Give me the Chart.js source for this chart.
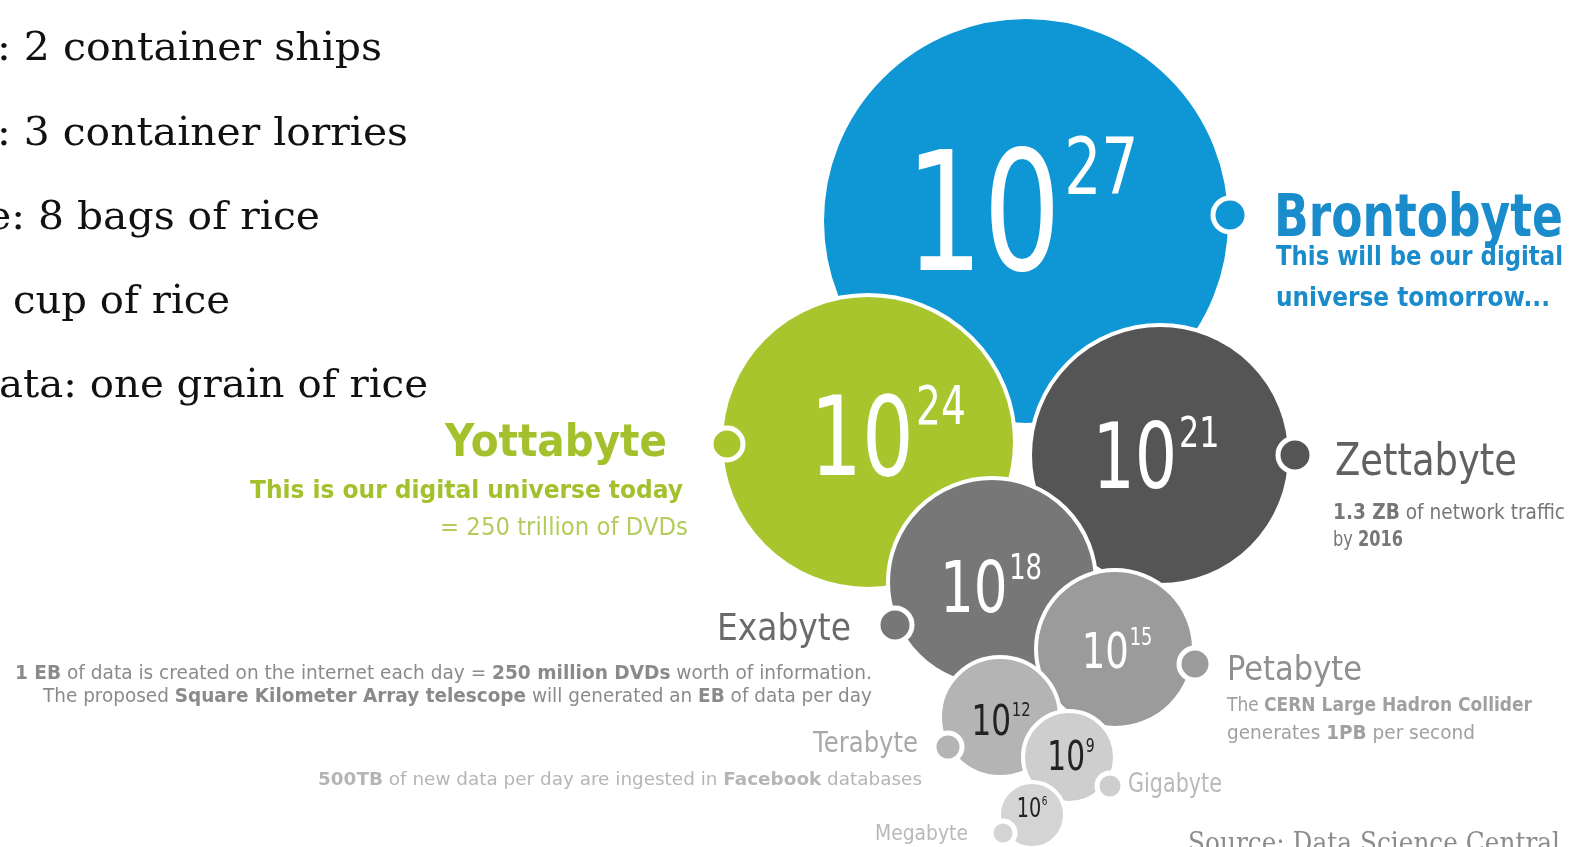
<!DOCTYPE html>
<html>
<head>
<meta charset="utf-8">
<script src="https://cdn.jsdelivr.net/npm/chart.js@4.4.1/dist/chart.umd.min.js"></script>
<style>
    html, body { margin: 0; padding: 0; background: #fff; overflow: hidden; }
    #wrap { position: relative; width: 1574px; height: 847px; }
</style>
</head>
<body>
<div id="wrap"><canvas id="bytesChart"></canvas></div>
<script>
// Data (bubble centre / radius in picture units)
const UNITS = ['Brontobyte', 'Yottabyte', 'Zettabyte', 'Exabyte', 'Petabyte', 'Terabyte', 'Gigabyte', 'Megabyte'];
const EXPONENTS = [27, 24, 21, 18, 15, 12, 9, 6];
const BUBBLE_X = [1026, 868, 1160, 992, 1115, 1000, 1069, 1032];
const BUBBLE_Y = [221, 442, 455, 582, 649, 717, 757, 815];
const BUBBLE_R = [204, 147, 130, 104, 79, 60, 46, 33];
const DOT_X = [1230, 727, 1295, 895, 1195, 948, 1110, 1003];
const DOT_Y = [215, 444, 455, 625, 664, 747, 786, 833];
const DOT_R = [17, 16, 17, 17, 16, 14, 13, 12];

// Notes next to each unit (**bold**)
const NOTES = [
    ['**This will be our digital**', '**universe tomorrow...**'],
    ['**This is our digital universe today**', '= 250 trillion of DVDs'],
    ['**1.3 ZB** of network traffic', 'by **2016**'],
    ['**1 EB** of data is created on the internet each day = **250 million DVDs** worth of information.',
     'The proposed **Square Kilometer Array telescope** will generated an **EB** of data per day'],
    ['The **CERN Large Hadron Collider**', 'generates **1PB** per second'],
    ['**500TB** of new data per day are ingested in **Facebook** databases'],
    [],
    []
];

const RICE = [': 2 container ships', ': 3 container lorries', 'e: 8 bags of rice', 'cup of rice', 'ata: one grain of rice'];
const SOURCE = 'Source: Data Science Central';

// Styles / layout
const COLORS = ['#0f97d5', '#a9c52d', '#555555', '#777777', '#9b9b9b', '#b4b4b4', '#cecece', '#d4d4d4'];
const EXP_COLORS = ['#fff', '#fff', '#fff', '#fff', '#fff', '#222', '#222', '#222'];
const EXP_SIZE = [165, 110, 90, 72, 50, 42, 40, 26];
const EXP_DX = [-4, 20, -4, -1, 2, 1, 2, 0];
const EXP_DY = [49, 33, 33, 30, 19, 18, 13, 2];

const TITLE = [
    { x: 1274, y: 236, size: 58, bold: true, color: '#1a8bcb', align: 'left', w: 289 },
    { x: 667, y: 456, size: 44, bold: true, color: '#a4c02c', align: 'right', w: 222 },
    { x: 1335, y: 475, size: 45, bold: false, color: '#616161', align: 'left', w: 182 },
    { x: 851, y: 640, size: 38, bold: false, color: '#6a6a6a', align: 'right', w: 134 },
    { x: 1227, y: 680, size: 34, bold: false, color: '#8f8f8f', align: 'left', w: 135 },
    { x: 918, y: 752, size: 28, bold: false, color: '#a9a9a9', align: 'right', w: 105 },
    { x: 1128, y: 792, size: 26, bold: false, color: '#b9b9b9', align: 'left', w: 94 },
    { x: 968, y: 840, size: 22, bold: false, color: '#b9b9b9', align: 'right', w: 93 }
];
const NOTE_LAYOUT = [
    { x: [1276, 1276], y: [265, 306], size: 27, color: ['#1a8bcb', '#1a8bcb'], align: 'left', w: [287, 274] },
    { x: [683, 688], y: [498, 535], size: 24, color: ['#a4c02c', '#b4cc5c'], align: 'right', w: [433, 248] },
    { x: [1333, 1333], y: [519, 546], size: 21, color: ['#777', '#777'], align: 'left', w: [232, 70] },
    { x: [872, 872], y: [679, 702], size: 19, color: ['#8a8a8a', '#8a8a8a'], align: 'right', w: [857, 829] },
    { x: [1227, 1227], y: [711, 739], size: 20, color: ['#a0a0a0', '#a0a0a0'], align: 'left', w: [305, 248] },
    { x: [922], y: [785], size: 18, color: ['#b5b5b5'], align: 'right', w: [604] },
    { x: [], y: [], size: 0, color: [], align: 'left', w: [] },
    { x: [], y: [], size: 0, color: [], align: 'left', w: [] }
];
const RICE_LAYOUT = { x: [-3, -3, -13, 13, -1], y: [60, 145, 229, 313, 397], w: [385, 411, 333, 217, 429], size: 40 };

const SANS = '"DejaVu Sans", sans-serif';
const SERIF = '"DejaVu Serif", Georgia, serif';

function parseRuns(line) {
    return line.split('**').map((t, i) => [t, i % 2 === 1]).filter(r => r[0].length);
}

// draws runs of text squeezed/stretched to a target width
function drawRuns(ctx, runs, x, y, size, color, align, targetW, family) {
    let natural = 0;
    runs.forEach(([t, b]) => {
        ctx.font = (b ? 'bold ' : '') + size + 'px ' + family;
        natural += ctx.measureText(t).width;
    });
    const sx = targetW ? targetW / natural : 1;
    const total = natural * sx;
    let left = align === 'right' ? x - total : (align === 'center' ? x - total / 2 : x);
    ctx.save();
    ctx.translate(left, y);
    ctx.scale(sx, 1);
    ctx.fillStyle = color;
    ctx.textAlign = 'left';
    ctx.textBaseline = 'alphabetic';
    let cx = 0;
    runs.forEach(([t, b]) => {
        ctx.font = (b ? 'bold ' : '') + size + 'px ' + family;
        ctx.fillText(t, cx, 0);
        cx += ctx.measureText(t).width;
    });
    ctx.restore();
}

const labelPlugin = {
    id: 'byteLabels',
    afterDatasetsDraw(chart) {
        const ctx = chart.ctx;
        const bubbles = chart.getDatasetMeta(0).data;
        const sqx = 0.74; // narrow digits

        // exponent labels inside bubbles
        bubbles.forEach((el, i) => {
            const base = EXP_SIZE[i];
            const sup = Math.round(base * 0.48);
            ctx.font = base + 'px ' + SANS;
            const w1 = ctx.measureText('10').width * sqx;
            ctx.font = sup + 'px ' + SANS;
            const w2 = ctx.measureText(String(EXPONENTS[i])).width * sqx;
            const gap = base * 0.02;
            const left = el.x + EXP_DX[i] - (w1 + gap + w2) / 2;
            const yb = el.y + EXP_DY[i];
            drawRuns(ctx, [['10', false]], left, yb, base, EXP_COLORS[i], 'left', w1, SANS);
            drawRuns(ctx, [[String(EXPONENTS[i]), false]], left + w1 + gap, yb - base * 0.46, sup, EXP_COLORS[i], 'left', w2, SANS);
        });

        // unit names and notes
        UNITS.forEach((u, i) => {
            const t = TITLE[i];
            drawRuns(ctx, [[u, t.bold]], t.x, t.y, t.size, t.color, t.align, t.w, SANS);
            const n = NOTE_LAYOUT[i];
            NOTES[i].forEach((line, j) => {
                drawRuns(ctx, parseRuns(line), n.x[j], n.y[j], n.size, n.color[j], n.align, n.w[j], SANS);
            });
        });

        // rice comparison text, cut off at the left edge
        RICE.forEach((line, i) => {
            drawRuns(ctx, [[line, false]], RICE_LAYOUT.x[i], RICE_LAYOUT.y[i], RICE_LAYOUT.size, '#111', 'left', RICE_LAYOUT.w[i], SERIF);
        });

        drawRuns(ctx, [[SOURCE, false]], 1188, 852, 28, '#8c8c8c', 'left', 372, SERIF);
    }
};

const bubbleData = UNITS.map((u, i) => ({ x: BUBBLE_X[i], y: BUBBLE_Y[i], r: BUBBLE_R[i] }));
const dotData = UNITS.map((u, i) => ({ x: DOT_X[i], y: DOT_Y[i], r: DOT_R[i] }));

new Chart(document.getElementById('bytesChart'), {
    type: 'bubble',
    data: {
        labels: UNITS,
        datasets: [
            {
                label: 'Units',
                data: bubbleData,
                backgroundColor: COLORS,
                borderColor: '#ffffff',
                borderWidth: 4,
                hoverRadius: 0,
                clip: false,
                order: 2
            },
            {
                label: 'Markers',
                data: dotData,
                backgroundColor: COLORS,
                borderColor: '#ffffff',
                borderWidth: 5,
                hoverRadius: 0,
                clip: false,
                order: 1
            }
        ]
    },
    options: {
        responsive: true,
        maintainAspectRatio: false,
        animation: false,
        events: [],
        layout: { padding: 0, autoPadding: false },
        plugins: { legend: { display: false }, tooltip: { enabled: false } },
        scales: {
            x: { type: 'linear', min: 0, max: 1574, display: false },
            y: { type: 'linear', min: 0, max: 847, reverse: true, display: false }
        }
    },
    plugins: [labelPlugin]
});
</script>
</body>
</html>
